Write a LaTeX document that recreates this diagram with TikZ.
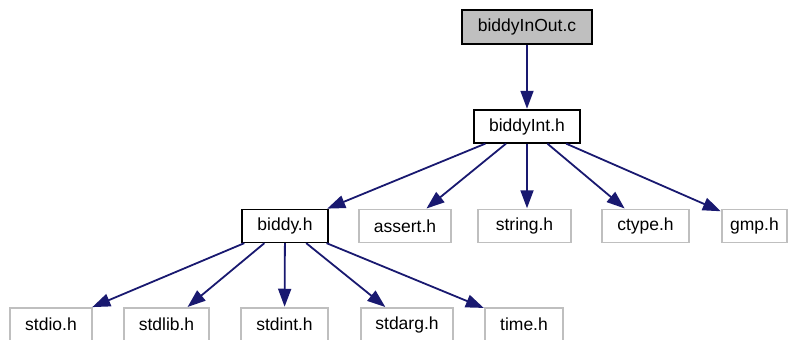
\documentclass[tikz,border=0pt]{standalone}
\usepackage{fontspec}
\setmainfont{Liberation Sans}
\usetikzlibrary{arrows.meta}
\definecolor{edgeblue}{RGB}{25,25,112}
\definecolor{boxgray}{RGB}{191,191,191}
\tikzset{
  file/.style={draw=black, line width=1.3pt, fill=white, inner sep=0pt,
    minimum height=33pt, font=\fontsize{17.5}{20}\selectfont},
  mainfile/.style={file, fill=boxgray},
  sysfile/.style={file, draw=boxgray},
  dep/.style={draw=edgeblue, line width=1.8pt,
    -{Triangle[length=18pt,width=13pt]}, shorten >=0.6pt},
}
\begin{document}
\begin{tikzpicture}[x=1pt, y=-1pt]
\useasboundingbox (0,0) rectangle (788,340);
% top level
\node[mainfile, minimum width=130pt, minimum height=34pt] (inout) at (527,27) {biddyInOut.c};
\node[file, minimum width=106pt] (int) at (527,126.5) {biddyInt.h};
% second row
\node[file, minimum width=86pt] (biddy) at (285,226) {biddy.h};
\node[sysfile, minimum width=92pt] (assert) at (405,226) {assert.h};
\node[sysfile, minimum width=93pt] (string) at (524.5,226) {string.h};
\node[sysfile, minimum width=87pt] (ctype) at (645.5,226) {ctype.h};
\node[sysfile, minimum width=65pt] (gmp) at (754.5,226) {gmp.h};
% third row
\node[sysfile, minimum width=82pt] (stdio) at (51,324.5) {stdio.h};
\node[sysfile, minimum width=85pt] (stdlib) at (166.5,324.5) {stdlib.h};
\node[sysfile, minimum width=87pt] (stdint) at (284.5,324.5) {stdint.h};
\node[sysfile, minimum width=92pt] (stdarg) at (407,324.5) {stdarg.h};
\node[sysfile, minimum width=78pt] (time) at (524,324.5) {time.h};
% include edges
\draw[dep] (inout) -- (int);
\draw[dep] (int) -- (biddy);
\draw[dep] (int) -- (assert);
\draw[dep] (int.south) -- (int.south |- string.north);
\draw[dep] (int) -- (ctype);
\draw[dep] (int) -- (gmp);
\draw[dep] (biddy) -- (stdio);
\draw[dep] (biddy) -- (stdlib);
\draw[dep] (biddy) -- (stdint);
\draw[dep] (biddy) -- (stdarg);
\draw[dep] (biddy) -- (time);
\end{tikzpicture}
\end{document}
